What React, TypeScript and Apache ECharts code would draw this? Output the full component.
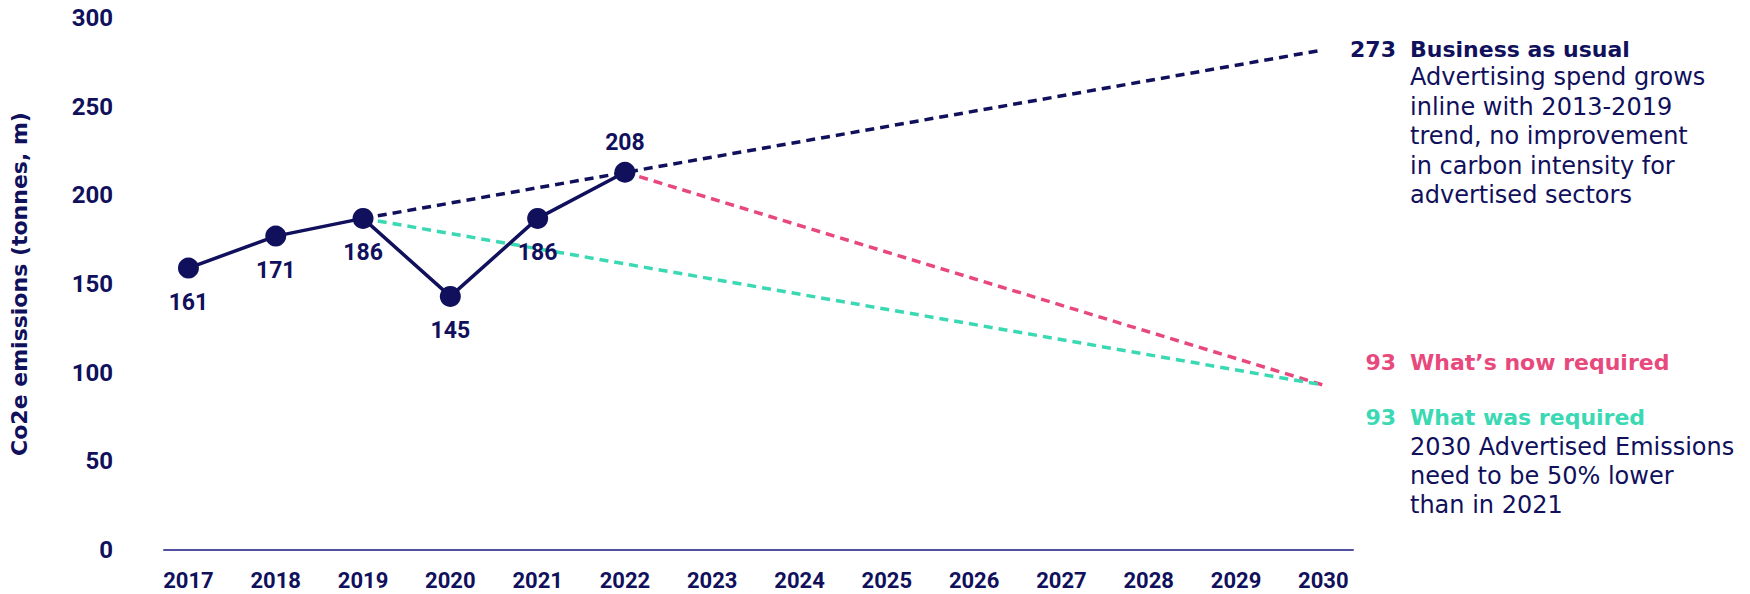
import React, { useEffect, useRef } from "react";
import * as echarts from "echarts";

// ---------- data ----------
const xYears = [2017, 2018, 2019, 2020, 2021, 2022, 2023, 2024, 2025, 2026, 2027, 2028, 2029, 2030];
const yTicks = [0, 50, 100, 150, 200, 250, 300];

const actualYears = [2017, 2018, 2019, 2020, 2021, 2022];
const actualValues = [159, 177, 187, 143, 187, 213];
const actualLabels = ["161", "171", "186", "145", "186", "208"];
const actualLabelPos = ["bottom", "bottom", "bottom", "bottom", "bottom", "top"];

const bauYears = [2019, 2030];
const bauValues = [187, 282];
const nowYears = [2022, 2030];
const nowValues = [213, 93];
const wasYears = [2019, 2030];
const wasValues = [187, 93];

const bauValueLabel = "273";
const bauTitle = "Business as usual";
const bauDesc = [
  "Advertising spend grows",
  "inline with 2013-2019",
  "trend, no improvement",
  "in carbon intensity for",
  "advertised sectors",
];
const nowValueLabel = "93";
const nowTitle = "What\u2019s now required";
const wasValueLabel = "93";
const wasTitle = "What was required";
const wasDesc = ["2030 Advertised Emissions", "need to be 50% lower", "than in 2021"];

const NAVY = "#10105c";
const PINK = "#e8497c";
const TEAL = "#3ad9b3";
const AXIS = "#50509e";
const TEXT_FONT = "'DejaVu Sans', sans-serif";
const NUM_FONT = "Roboto, sans-serif";

export default function App() {
  const ref = useRef<HTMLDivElement>(null);

  useEffect(() => {
    if (!ref.current) return;
    const chart = echarts.init(ref.current, null, { renderer: "svg" });

    const pair = (xs: number[], ys: number[]) => xs.map((x, i) => [x, ys[i]]);

    const textEl = (
      text: string,
      x: number,
      y: number,
      fill: string,
      weight: string,
      size: number,
      align: string,
      lineHeight?: number
    ) => ({
      type: "text",
      x,
      y,
      style: {
        text,
        fill,
        fontFamily: TEXT_FONT,
        fontWeight: weight,
        fontSize: size,
        align,
        verticalAlign: "middle",
        lineHeight: lineHeight || size,
      },
    });

    const dashed = (color: string) => ({
      type: "line",
      showSymbol: false,
      symbol: "none",
      z: 2,
      lineStyle: { color, width: 3.5, type: [9, 6] },
      silent: true,
    });

    const option: any = {
      animation: false,
      backgroundColor: "#ffffff",
      grid: { left: 159, right: 397, top: 18, bottom: 44, containLabel: false },
      xAxis: {
        type: "value",
        min: 2016.72,
        max: 2030.34,
        splitLine: { show: false },
        axisTick: { show: false },
        axisLine: { show: true, lineStyle: { color: AXIS, width: 2 } },
        axisLabel: {
          customValues: xYears,
          formatter: (v: number) => String(v),
          color: NAVY,
          fontFamily: NUM_FONT,
          fontWeight: "bold",
          fontSize: 22,
          lineHeight: 22,
          margin: 19,
        },
      },
      yAxis: {
        type: "value",
        min: 0,
        max: 300,
        interval: 50,
        splitLine: { show: false },
        axisTick: { show: false },
        axisLine: { show: false },
        axisLabel: {
          customValues: yTicks,
          color: NAVY,
          fontFamily: NUM_FONT,
          fontWeight: "bold",
          fontSize: 24,
          margin: 51,
        },
        name: "Co2e emissions (tonnes, m)",
        nameLocation: "middle",
        nameRotate: 90,
        nameGap: 134,
        nameTextStyle: {
          color: NAVY,
          fontFamily: TEXT_FONT,
          fontWeight: "bold",
          fontSize: 22,
        },
      },
      series: [
        { ...dashed(NAVY), name: "bau", data: pair(bauYears, bauValues) },
        { ...dashed(PINK), name: "now", data: pair(nowYears, nowValues) },
        { ...dashed(TEAL), name: "was", data: pair(wasYears, wasValues) },
        {
          type: "line",
          name: "actual",
          z: 5,
          symbol: "circle",
          symbolSize: 21,
          itemStyle: { color: NAVY },
          lineStyle: { color: NAVY, width: 3.5 },
          data: actualYears.map((yr, i) => ({
            value: [yr, actualValues[i]],
            label: {
              position: actualLabelPos[i],
              distance: actualLabelPos[i] === "top" ? 8 : 12,
            },
          })),
          label: {
            show: true,
            color: NAVY,
            fontFamily: NUM_FONT,
            fontWeight: "bold",
            fontSize: 23,
            formatter: (p: any) => actualLabels[p.dataIndex],
          },
        },
      ],
      graphic: [
        textEl(bauValueLabel, 1396, 49, NAVY, "bold", 22, "right"),
        textEl(bauTitle, 1410, 49, NAVY, "bold", 22, "left"),
        textEl(bauDesc.join("\n"), 1410, 136, NAVY, "normal", 24, "left", 29.5),
        textEl(nowValueLabel, 1396, 362, PINK, "bold", 22, "right"),
        textEl(nowTitle, 1410, 362, PINK, "bold", 22, "left"),
        textEl(wasValueLabel, 1396, 417, TEAL, "bold", 22, "right"),
        textEl(wasTitle, 1410, 417, TEAL, "bold", 22, "left"),
        textEl(wasDesc.join("\n"), 1410, 476, NAVY, "normal", 24, "left", 29),
      ],
    };

    chart.setOption(option);
    return () => chart.dispose();
  }, []);

  return (
    <div
      ref={ref}
      style={{ position: "fixed", left: 0, top: 0, width: 1750, height: 594, background: "#fff" }}
    />
  );
}
